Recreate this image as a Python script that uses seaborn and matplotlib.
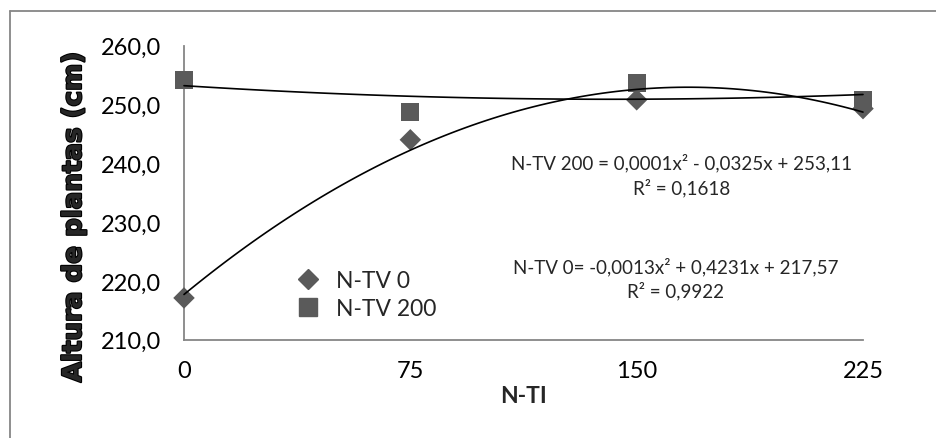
import numpy as np
import pandas as pd
import matplotlib
matplotlib.use("Agg")
import matplotlib.pyplot as plt
import matplotlib.patheffects as pe
from matplotlib.ticker import FixedLocator, FuncFormatter
from matplotlib.lines import Line2D
import seaborn as sns

# Nitrogen rate at sowing (N-TI) and plant height for the two top-dressing rates
n_ti = [0, 75, 150, 225]
ntv0 = [217.1, 244.0, 250.8, 249.3]
ntv200 = [254.1, 248.7, 253.6, 250.8]
series_names = ["N-TV 0", "N-TV 200"]
y_ticks = [210, 220, 230, 240, 250, 260]
eq_ntv200 = "N-TV 200 = 0,0001x² - 0,0325x + 253,11\nR² = 0,1618"
eq_ntv0 = "N-TV 0= -0,0013x² + 0,4231x + 217,57\nR² = 0,9922"

W, H = 937, 439
sns.set_theme(style="white")
plt.rcParams["font.family"] = ["Lato", "DejaVu Sans"]

fig = plt.figure(figsize=(W / 100, H / 100), dpi=100)
ax = fig.add_axes([184 / W, 1 - 340.7 / H, (863 - 184) / W, (340.7 - 46.7) / H])

df = pd.DataFrame({
    "N-TI": n_ti * 2,
    "altura": ntv0 + ntv200,
    "serie": [series_names[0]] * len(n_ti) + [series_names[1]] * len(n_ti),
})

marker_color = "#5a5a5a"
sns.scatterplot(data=df[df.serie == series_names[0]], x="N-TI", y="altura",
                marker="D", s=120, color=marker_color, edgecolor="none",
                ax=ax, legend=False, zorder=3, clip_on=False)
sns.scatterplot(data=df[df.serie == series_names[1]], x="N-TI", y="altura",
                marker="s", s=170, color=marker_color, edgecolor="none",
                ax=ax, legend=False, zorder=3, clip_on=False)

# second-order polynomial trend lines
for vals in (ntv0, ntv200):
    sns.regplot(x=np.array(n_ti, dtype=float), y=np.array(vals), order=2, ci=None,
                scatter=False, truncate=True, ax=ax,
                line_kws=dict(color="black", lw=1.2, zorder=4, clip_on=False))

ax.set_xlim(0, 225)
ax.set_ylim(210, 260)
ax.xaxis.set_major_locator(FixedLocator(n_ti))
ax.yaxis.set_major_locator(FixedLocator(y_ticks))
ax.yaxis.set_major_formatter(FuncFormatter(lambda v, p: f"{v:.1f}".replace(".", ",")))
ax.set_xlabel("")
ax.set_ylabel("")

axis_gray = "#868686"
for side in ("top", "right"):
    ax.spines[side].set_visible(False)
for side in ("left", "bottom"):
    ax.spines[side].set_color(axis_gray)
    ax.spines[side].set_linewidth(1.3)
ax.tick_params(axis="both", direction="out", color=axis_gray, width=1.3,
               length=6.5, labelsize=17, labelcolor="black")
ax.tick_params(axis="x", pad=8)
ax.tick_params(axis="y", pad=10)
ax.grid(False)

# axis titles
fig.text(74 / W, 1 - 217.5 / H, "Altura de plantas (cm)", rotation=90,
         ha="center", va="center", fontsize=18.8, fontweight="bold",
         family=["DejaVu Sans"],
         path_effects=[pe.withStroke(linewidth=1.6, foreground="black")])
fig.text(523 / W, 1 - 397 / H, "N-TI", ha="center", va="center",
         fontsize=16.5, fontweight="bold")

# trend line equations
fig.text(682 / W, 1 - 176 / H, eq_ntv200, ha="center", va="center",
         fontsize=13.5, linespacing=1.4)
fig.text(676 / W, 1 - 279 / H, eq_ntv0, ha="center", va="center",
         fontsize=13.5, linespacing=1.4)

handles = [
    Line2D([], [], marker="D", ls="none", color=marker_color, markersize=10),
    Line2D([], [], marker="s", ls="none", color=marker_color, markersize=12.5),
]
ax.legend(handles, series_names, loc="center left",
          bbox_to_anchor=(297 / W, 1 - 295.5 / H), bbox_transform=fig.transFigure,
          frameon=False, fontsize=16.5, handlelength=1.0, handletextpad=0.7,
          labelspacing=0.3, borderpad=0, borderaxespad=0)

# outer chart border
fig.add_artist(plt.Line2D([10 / W, 10 / W], [-0.05, 1 - 12 / H], color=axis_gray,
                          lw=1.3, transform=fig.transFigure))
fig.add_artist(plt.Line2D([10 / W, 1.05], [1 - 12 / H, 1 - 12 / H], color=axis_gray,
                          lw=1.3, transform=fig.transFigure))

fig.savefig("out.png", dpi=100)
